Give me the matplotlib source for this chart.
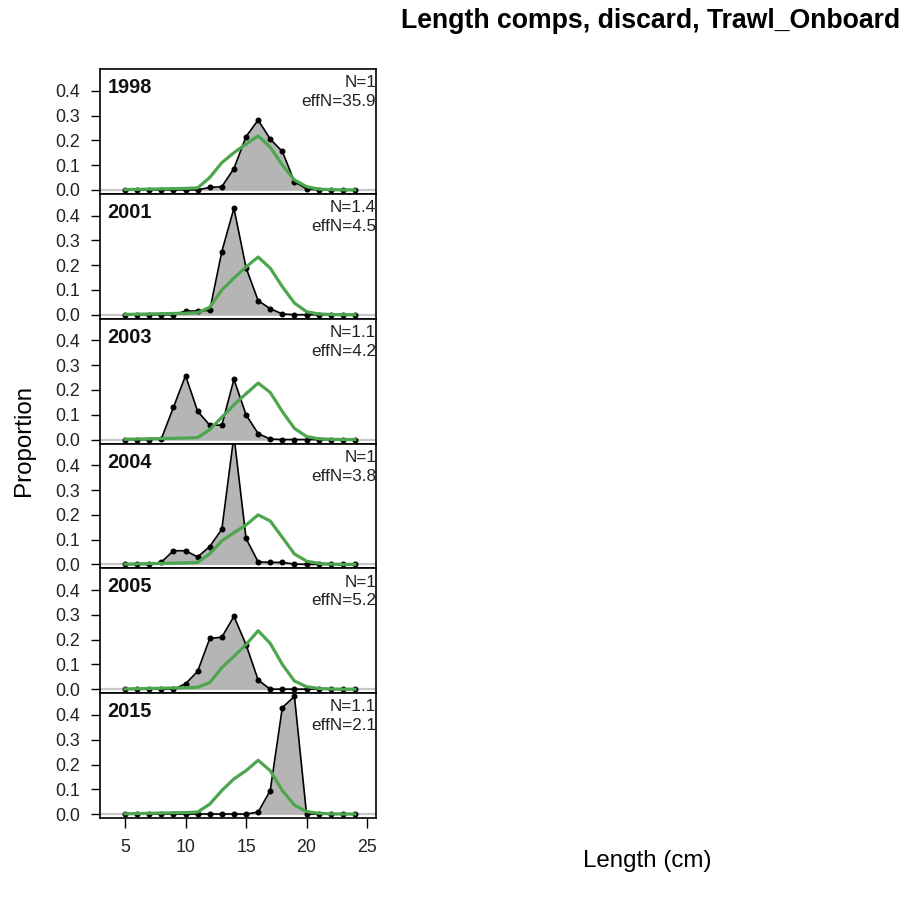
import matplotlib
matplotlib.use('Agg')
import matplotlib.pyplot as plt
import numpy as np

plt.rcParams['font.family'] = ['Liberation Sans', 'DejaVu Sans']

bins = np.arange(5, 25)
years = ['1998', '2001', '2003', '2004', '2005', '2015']
n_vals = ['1', '1.4', '1.1', '1', '1', '1.1']
effn_vals = ['35.9', '4.5', '4.2', '3.8', '5.2', '2.1']

obs_1998 = [0, 0, 0, 0, 0, 0, 0, 0.01, 0.013, 0.086, 0.215, 0.282, 0.205, 0.155, 0.033, 0.004, 0, 0, 0, 0]
obs_2001 = [0, 0, 0, 0, 0, 0.015, 0.015, 0.017, 0.255, 0.43, 0.19, 0.057, 0.024, 0.003, 0, 0, 0, 0, 0, 0]
obs_2003 = [0, 0, 0, 0.003, 0.13, 0.258, 0.114, 0.058, 0.058, 0.243, 0.1, 0.024, 0.002, 0, 0, 0, 0, 0, 0, 0]
obs_2004 = [0, 0, 0, 0.009, 0.055, 0.055, 0.03, 0.072, 0.142, 0.52, 0.105, 0.01, 0.008, 0.008, 0.001, 0, 0, 0, 0, 0]
obs_2005 = [0, 0, 0, 0, 0, 0.022, 0.072, 0.205, 0.21, 0.294, 0.18, 0.037, 0, 0, 0, 0, 0, 0, 0, 0]
obs_2015 = [0, 0, 0, 0, 0, 0, 0, 0, 0, 0, 0, 0.008, 0.095, 0.43, 0.475, 0, 0, 0, 0, 0]

exp_1998 = [0.001, 0.002, 0.003, 0.004, 0.005, 0.006, 0.008, 0.05, 0.11, 0.15, 0.185, 0.218, 0.172, 0.1, 0.04, 0.013, 0.003, 0.001, 0, 0]
exp_2001 = [0.001, 0.002, 0.003, 0.004, 0.005, 0.006, 0.008, 0.03, 0.1, 0.148, 0.193, 0.233, 0.188, 0.113, 0.047, 0.012, 0.003, 0.001, 0, 0]
exp_2003 = [0.001, 0.002, 0.003, 0.004, 0.005, 0.006, 0.008, 0.04, 0.09, 0.14, 0.185, 0.228, 0.19, 0.113, 0.045, 0.012, 0.003, 0.001, 0, 0]
exp_2004 = [0.001, 0.002, 0.003, 0.004, 0.005, 0.006, 0.008, 0.043, 0.095, 0.128, 0.159, 0.2, 0.175, 0.109, 0.042, 0.013, 0.004, 0.001, 0, 0]
exp_2005 = [0.001, 0.002, 0.003, 0.004, 0.005, 0.006, 0.008, 0.027, 0.087, 0.133, 0.18, 0.236, 0.185, 0.1, 0.033, 0.01, 0.003, 0.001, 0, 0]
exp_2015 = [0.001, 0.002, 0.003, 0.004, 0.005, 0.006, 0.008, 0.04, 0.095, 0.142, 0.175, 0.217, 0.175, 0.095, 0.036, 0.01, 0.003, 0.001, 0, 0]

observed = [obs_1998, obs_2001, obs_2003, obs_2004, obs_2005, obs_2015]
expected = [exp_1998, exp_2001, exp_2003, exp_2004, exp_2005, exp_2015]

fig = plt.figure(figsize=(9.1, 9.09), dpi=100)

left, right = 100 / 910, 376 / 910
top, bottom = 1 - 69 / 909, 1 - 818 / 909
h = (top - bottom) / len(years)

for i, yr in enumerate(years):
    ax = fig.add_axes([left, top - (i + 1) * h, right - left, h])
    obs = np.array(observed[i])
    ax.axhline(0, color='#c8c8c8', lw=1.6, zorder=1)
    ax.fill_between(bins, obs, 0, color='#b5b5b5', lw=0, zorder=2)
    ax.plot(bins, obs, color='black', lw=1.2, zorder=3)
    ax.plot(bins, obs, 'o', color='black', ms=3.3, zorder=3)
    # expected (model fit)
    ax.plot(bins, expected[i], color='#4da64d', lw=2.3, zorder=4)

    ax.set_xlim(2.93, 25.74)
    ax.set_ylim(-0.016, 0.488)
    ax.set_yticks([0, 0.1, 0.2, 0.3, 0.4])
    ax.set_yticklabels(['0.0', '0.1', '0.2', '0.3', '0.4'])
    ax.tick_params(axis='y', length=6.5, width=1, labelsize=12.8, pad=8, colors='black')
    ax.tick_params(axis='y', labelcolor='#222222')
    if i == len(years) - 1:
        ax.set_xticks([5, 10, 15, 20, 25])
        ax.tick_params(axis='x', length=7, width=1, labelsize=12.8, pad=8, labelcolor='#222222')
    else:
        ax.set_xticks([])
    for s in ax.spines.values():
        s.set_linewidth(1.2)

    ax.annotate(yr, xy=(0, 1), xycoords='axes fraction', xytext=(5.5, -6.5),
                textcoords='offset points', ha='left', va='top',
                fontsize=14.3, fontweight='bold', color='#111111')
    ax.annotate('N=' + n_vals[i], xy=(1, 1), xycoords='axes fraction', xytext=(0, -4.5),
                textcoords='offset points', ha='right', va='top', fontsize=12.3, color='#222222')
    ax.annotate('effN=' + effn_vals[i], xy=(1, 1), xycoords='axes fraction', xytext=(0, -18),
                textcoords='offset points', ha='right', va='top', fontsize=12.3, color='#222222')

fig.text(0.7154, 1 - 28 / 909, 'Length comps, discard, Trawl_Onboard', ha='center', va='baseline',
         fontsize=19.2, fontweight='bold')
fig.text(0.711, 1 - 861 / 909, 'Length (cm)', ha='center', va='center', fontsize=17.4)
fig.text(0.026, 1 - 440 / 909, 'Proportion', ha='center', va='center', rotation=90, fontsize=17.4)

fig.savefig('out.png', dpi=100)
